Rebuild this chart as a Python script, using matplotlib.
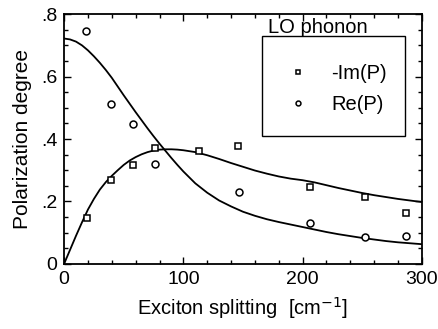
import matplotlib.pyplot as plt
from matplotlib.patches import Rectangle
import numpy as np

plt.rcParams["font.family"] = ["Liberation Sans", "DejaVu Sans"]

# measured points
split_im = [19, 39, 58, 76, 113, 146, 206, 252, 287]
im_pts = [0.147, 0.270, 0.317, 0.371, 0.362, 0.378, 0.246, 0.214, 0.163]
split_re = [18, 39, 58, 76, 147, 206, 252, 287]
re_pts = [0.746, 0.512, 0.448, 0.320, 0.230, 0.131, 0.086, 0.090]

# fitted curves
fit_x = [0, 5, 10, 15, 20, 25, 30, 35, 40, 45, 50, 55, 60, 65, 70, 75, 80,
         85, 90, 95, 100, 110, 120, 130, 140, 150, 160, 170, 180, 190, 200,
         210, 220, 230, 240, 250, 260, 270, 280, 290, 300]
im_fit = [0.000, 0.045, 0.090, 0.133, 0.174, 0.208, 0.238, 0.262, 0.282,
          0.300, 0.317, 0.331, 0.342, 0.351, 0.358, 0.363, 0.366, 0.367,
          0.367, 0.366, 0.364, 0.358, 0.348, 0.336, 0.323, 0.311, 0.299,
          0.289, 0.280, 0.273, 0.268, 0.261, 0.252, 0.243, 0.235, 0.227,
          0.220, 0.214, 0.208, 0.203, 0.198]
re_fit = [0.722, 0.719, 0.712, 0.700, 0.684, 0.665, 0.644, 0.621, 0.596,
          0.568, 0.540, 0.513, 0.486, 0.460, 0.434, 0.409, 0.385, 0.362,
          0.339, 0.317, 0.296, 0.258, 0.228, 0.203, 0.184, 0.167, 0.154,
          0.143, 0.134, 0.126, 0.118, 0.110, 0.102, 0.095, 0.089, 0.083,
          0.078, 0.073, 0.069, 0.066, 0.063]

fig = plt.figure(figsize=(4.39, 3.29), dpi=100)
ax = fig.add_axes([0.146, 0.198, 0.815, 0.759])

ax.plot(fit_x, re_fit, color="black", lw=1.3)
ax.plot(fit_x, im_fit, color="black", lw=1.3)
ax.plot(split_im, im_pts, ls="none", marker="s", ms=5, mfc="white",
        mec="black", mew=1.1, label="-Im(P)")
ax.plot(split_re, re_pts, ls="none", marker="o", ms=5, mfc="white",
        mec="black", mew=1.1, label="Re(P)")

ax.set_xlim(0, 300)
ax.set_ylim(0, 0.8)
ax.set_xticks([0, 100, 200, 300])
ax.set_xticks(np.arange(0, 301, 20), minor=True)
ax.set_yticks([0, 0.2, 0.4, 0.6, 0.8])
ax.set_yticklabels(["0", ".2", ".4", ".6", ".8"])
ax.set_yticks(np.arange(0, 0.81, 0.05), minor=True)
ax.tick_params(which="both", direction="in", top=True, right=True,
               labelsize=14, width=1)
ax.tick_params(which="major", length=5, pad=5)
ax.tick_params(which="minor", length=3)
for s in ax.spines.values():
    s.set_linewidth(1.3)

ax.set_xlabel("Exciton splitting  [cm$^{-1}$]", fontsize=14.5, labelpad=5)
ax.set_ylabel("Polarization degree", fontsize=15, labelpad=6)

ax.add_patch(Rectangle((0.553, 0.512), 0.40, 0.40, transform=ax.transAxes,
                       fill=False, ec="black", lw=1))
ax.text(0.71, 0.924, "LO phonon", transform=ax.transAxes, fontsize=14.5,
        ha="center", va="baseline")
leg = ax.legend(loc="center", bbox_to_anchor=(0.761, 0.70), frameon=False,
                fontsize=14.5, markerscale=0.7, handlelength=1.2,
                handletextpad=1.05, labelspacing=0.6)

plt.savefig("out.png", dpi=100)
